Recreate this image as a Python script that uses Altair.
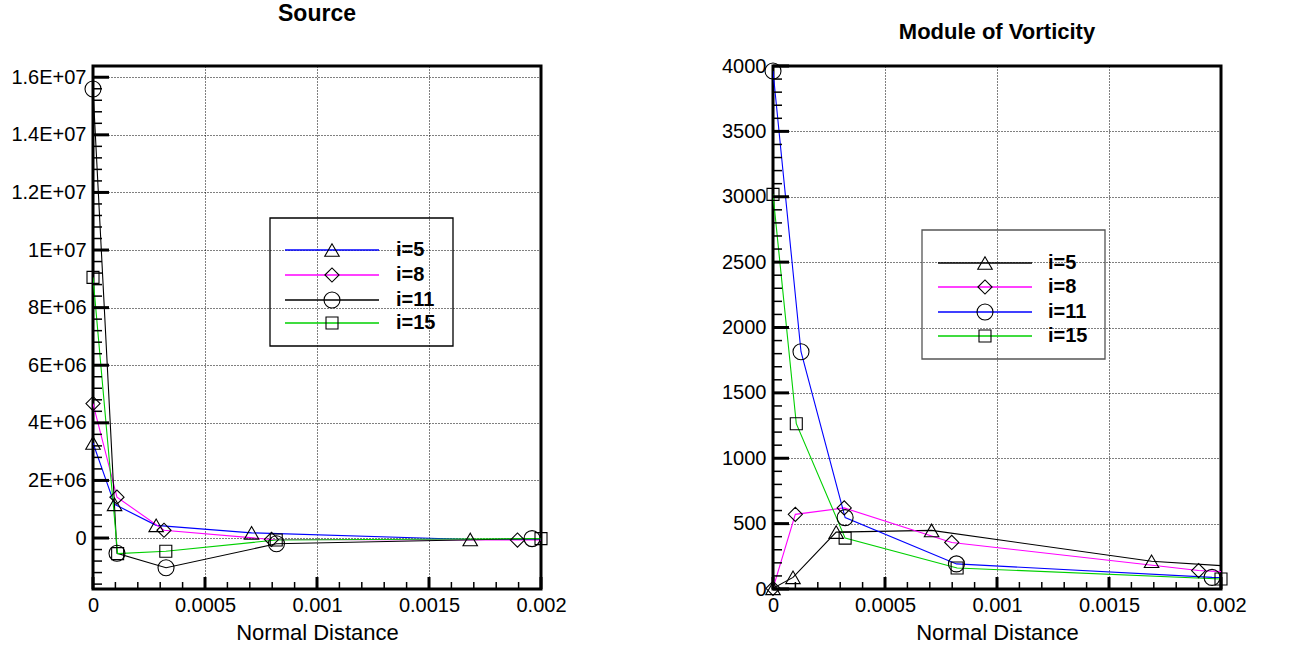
import altair as alt
import pandas as pd

# ---------------- data ----------------
SERIES = ["i=5", "i=8", "i=11", "i=15"]
SHAPES = ["triangle-up", "diamond", "circle", "square"]
SIZES = [210, 200, 256, 144]

# Left panel: Source
SRC_X_5 = [0, 0.0000962, 0.000282, 0.000708, 0.001684, 0.002]
SRC_Y_5 = [3.30e6, 1.17e6, 0.44e6, 0.18e6, -0.05e6, -0.05e6]
SRC_X_8 = [0, 0.000107, 0.000317, 0.000797, 0.001895, 0.002]
SRC_Y_8 = [4.67e6, 1.42e6, 0.27e6, -0.05e6, -0.07e6, -0.07e6]
SRC_X_11 = [0, 0.000107, 0.000326, 0.000819, 0.00196, 0.002]
SRC_Y_11 = [15.59e6, -0.53e6, -1.03e6, -0.20e6, -0.02e6, -0.02e6]
SRC_X_15 = [0, 0.00011, 0.000325, 0.000818, 0.002]
SRC_Y_15 = [9.05e6, -0.54e6, -0.46e6, -0.07e6, -0.02e6]
SRC_COLORS = ["#0000ff", "#ff00ff", "#000000", "#00d000"]

# Right panel: Module of Vorticity
VOR_X_5 = [0, 0.0000894, 0.000282, 0.000708, 0.00169, 0.002]
VOR_Y_5 = [5, 89, 435, 448, 212, 179]
VOR_X_8 = [0, 0.0000996, 0.000318, 0.000798, 0.0019, 0.002]
VOR_Y_8 = [5, 571, 620, 356, 141, 133]
VOR_X_11 = [0, 0.000125, 0.000322, 0.000819, 0.00196, 0.002]
VOR_Y_11 = [3962, 1815, 546, 192, 89, 88]
VOR_X_15 = [0, 0.000104, 0.000322, 0.000822, 0.002]
VOR_Y_15 = [3018, 1264, 389, 161, 77]
VOR_COLORS = ["#000000", "#ff00ff", "#0000ff", "#00d000"]

N_MARKERS = 5  # symbols drawn on the first five points of each series

# axes
X_TICKS = [0, 0.0005, 0.001, 0.0015, 0.002]
X_LABELS = ["0", "0.0005", "0.001", "0.0015", "0.002"]
X_MINOR = [i * 0.0001 for i in range(0, 21)]

SRC_Y_TICKS = [0, 2e6, 4e6, 6e6, 8e6, 10e6, 12e6, 14e6, 16e6]
SRC_Y_LABELS = ["0", "2E+06", "4E+06", "6E+06", "8E+06", "1E+07", "1.2E+07", "1.4E+07", "1.6E+07"]
SRC_Y_MINOR = [i * 4e5 for i in range(-4, 41)]
SRC_Y_DOMAIN = [-1.77e6, 16.39e6]

VOR_Y_TICKS = [0, 500, 1000, 1500, 2000, 2500, 3000, 3500, 4000]
VOR_Y_LABELS = ["0", "500", "1000", "1500", "2000", "2500", "3000", "3500", "4000"]
VOR_Y_MINOR = [i * 100 for i in range(0, 41)]
VOR_Y_DOMAIN = [0, 4000]

X_DOMAIN = [0, 0.002]
FONT = "Liberation Sans"
W = 448


def label_expr(values, labels):
    expr = "''"
    for v, l in reversed(list(zip(values, labels))):
        expr = f"abs(datum.value - ({v!r})) < {abs(v) * 1e-6 + 1e-12!r} ? '{l}' : " + expr
    return expr


def build_panel(xs_list, ys_list, colors, y_ticks, y_labels, y_minor, y_domain,
                height, title, title_size, title_offset, legend):
    rows = []
    for s, xs, ys in zip(SERIES, xs_list, ys_list):
        for k, (x, y) in enumerate(zip(xs, ys)):
            rows.append({"series": s, "x": x, "y": y, "order": k, "marked": k < N_MARKERS})
    df = pd.DataFrame(rows)

    xsc = alt.Scale(domain=X_DOMAIN, nice=False, zero=False)
    ysc = alt.Scale(domain=y_domain, nice=False, zero=False)

    xenc = alt.X("x:Q", scale=xsc, axis=alt.Axis(
        values=X_TICKS, labelExpr=label_expr(X_TICKS, X_LABELS), title="Normal Distance",
        grid=True, ticks=False, domain=False, labelPadding=6, titlePadding=7,
        titleFontSize=22, titleFontWeight="normal", titleFont=FONT, labelFlush=False,
        labelFontSize=20, labelFont=FONT, labelColor="black", titleColor="black",
        gridColor="black", gridDash=[1, 2], gridOpacity=1, gridWidth=1))
    yenc = alt.Y("y:Q", scale=ysc, axis=alt.Axis(
        values=y_ticks, labelExpr=label_expr(y_ticks, y_labels), title=None,
        grid=True, ticks=False, domain=False, labelPadding=7, labelFlush=False,
        labelFontSize=20, labelFont=FONT, labelColor="black",
        gridColor="black", gridDash=[1, 2], gridOpacity=1, gridWidth=1))

    layers = []
    color_scale = alt.Scale(domain=SERIES, range=colors)
    line = alt.Chart(df).mark_line(strokeWidth=1.1, clip=True).encode(
        x=xenc, y=yenc,
        color=alt.Color("series:N", scale=color_scale, legend=None),
        detail="series:N", order="order:Q")
    layers.append(line)

    for s, shp, sz in zip(SERIES, SHAPES, SIZES):
        pts = alt.Chart(df).transform_filter(
            (alt.datum.series == s) & (alt.datum.marked == True)
        ).mark_point(shape=shp, size=sz, filled=False, color="black", strokeWidth=1.1, opacity=1).encode(
            x=alt.X("x:Q", scale=xsc), y=alt.Y("y:Q", scale=ysc))
        layers.append(pts)

    # inside ticks
    ymaj = pd.DataFrame({"v": y_ticks})
    ymin = pd.DataFrame({"v": [v for v in y_minor if y_domain[0] <= v <= y_domain[1]]})
    xmaj = pd.DataFrame({"v": X_TICKS})
    xmin = pd.DataFrame({"v": X_MINOR})
    layers.append(alt.Chart(ymaj).mark_rule(color="black", strokeWidth=3).encode(
        y=alt.Y("v:Q", scale=ysc), x=alt.value(0), x2=alt.value(16)))
    layers.append(alt.Chart(ymin).mark_rule(color="black", strokeWidth=1.5).encode(
        y=alt.Y("v:Q", scale=ysc), x=alt.value(0), x2=alt.value(9)))
    layers.append(alt.Chart(xmaj).mark_rule(color="black", strokeWidth=3).encode(
        x=alt.X("v:Q", scale=xsc), y=alt.value(height), y2=alt.value(height - 12)))
    layers.append(alt.Chart(xmin).mark_rule(color="black", strokeWidth=1.5).encode(
        x=alt.X("v:Q", scale=xsc), y=alt.value(height), y2=alt.value(height - 7)))

    # legend drawn inside the plot
    dummy = alt.Data(values=[{"a": 1}])
    bx1, by1, bx2, by2, stroke_col = legend["box"]
    layers.append(alt.Chart(dummy).mark_rect(fillOpacity=0, stroke=stroke_col, strokeWidth=1.3).encode(
        x=alt.value(bx1), x2=alt.value(bx2), y=alt.value(by1), y2=alt.value(by2)))
    lx1, lx2, mx, tx = legend["x"]
    for s, shp, sz, col, ry in zip(SERIES, SHAPES, SIZES, colors, legend["rows"]):
        layers.append(alt.Chart(dummy).mark_rule(color=col, strokeWidth=1.3).encode(
            x=alt.value(lx1), x2=alt.value(lx2), y=alt.value(ry)))
        layers.append(alt.Chart(dummy).mark_point(shape=shp, size=sz, filled=False, color="black",
                                                  strokeWidth=1.1, opacity=1).encode(
            x=alt.value(mx), y=alt.value(ry)))
        layers.append(alt.Chart(dummy).mark_text(text=s, align="left", baseline="middle", font=FONT,
                                                 fontSize=20, fontWeight="bold", color="black").encode(
            x=alt.value(tx), y=alt.value(ry)))

    return alt.layer(*layers).resolve_scale(color="independent").properties(
        width=W, height=height,
        title=alt.TitleParams(title, font=FONT, fontSize=title_size, fontWeight="bold",
                              anchor="middle", offset=title_offset, color="black"))


left = build_panel([SRC_X_5, SRC_X_8, SRC_X_11, SRC_X_15],
                   [SRC_Y_5, SRC_Y_8, SRC_Y_11, SRC_Y_15],
                   SRC_COLORS, SRC_Y_TICKS, SRC_Y_LABELS, SRC_Y_MINOR, SRC_Y_DOMAIN,
                   523, "Source", 23, 40,
                   {"box": (177, 152, 360, 280, "black"),
                    "x": (192, 286, 239, 303),
                    "rows": [184, 209, 234, 257]})

right = build_panel([VOR_X_5, VOR_X_8, VOR_X_11, VOR_X_15],
                    [VOR_Y_5, VOR_Y_8, VOR_Y_11, VOR_Y_15],
                    VOR_COLORS, VOR_Y_TICKS, VOR_Y_LABELS, VOR_Y_MINOR, VOR_Y_DOMAIN,
                    523, "Module of Vorticity", 22, 12,
                    {"box": (149, 164, 332, 293, "#555555"),
                     "x": (165, 259, 212, 275),
                     "rows": [197, 221, 246, 270]})

chart = alt.hconcat(left, right, spacing=232, bounds="flush").resolve_scale(
    color="independent"
).properties(
    padding={"left": 9, "top": 1, "right": 5, "bottom": 5},
    background="white"
).configure_view(
    stroke="black", strokeWidth=3
)

chart.save("out.html", embed_options={"renderer": "svg", "actions": False})
